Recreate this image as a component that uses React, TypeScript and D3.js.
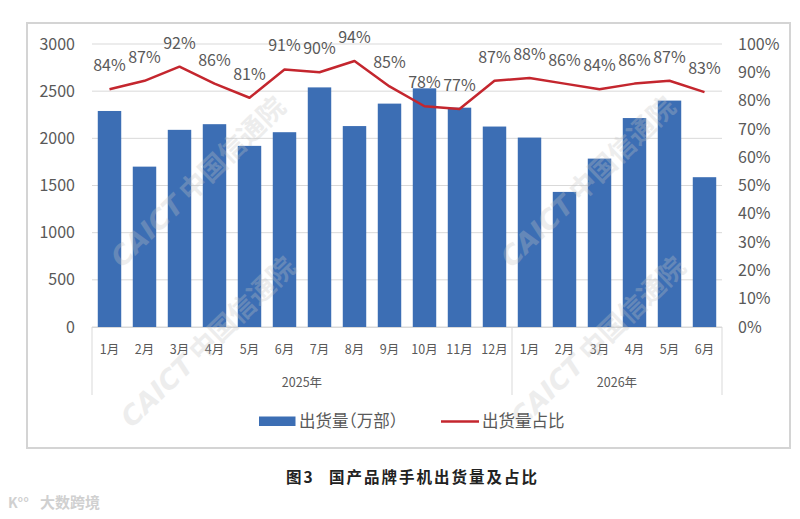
import React from 'react';
import * as d3 from 'd3';

// 国产品牌手机出货量（万部）及占比
const months = ['1月', '2月', '3月', '4月', '5月', '6月', '7月', '8月', '9月', '10月', '11月', '12月', '1月', '2月', '3月', '4月', '5月', '6月'];
const years = [
  { label: '2025年', from: 0, to: 12 },
  { label: '2026年', from: 12, to: 18 },
];
const shipments = [2290, 1700, 2090, 2150, 1920, 2065, 2540, 2130, 2368, 2530, 2325, 2125, 2008, 1432, 1785, 2215, 2400, 1588];
const shares = [0.84, 0.87, 0.92, 0.86, 0.81, 0.91, 0.90, 0.94, 0.85, 0.78, 0.77, 0.87, 0.88, 0.86, 0.84, 0.86, 0.87, 0.83];
const leftTicks = [0, 500, 1000, 1500, 2000, 2500, 3000];
const rightTicks = [0, 0.1, 0.2, 0.3, 0.4, 0.5, 0.6, 0.7, 0.8, 0.9, 1];

const W = 800;
const H = 519;
const plot = { left: 92, right: 722, top: 44, bottom: 327 };
const font = '"Noto Sans CJK SC", "Noto Sans", sans-serif';
const grey = '#595959';
const blue = '#3c6eb4';
const red = '#c4262e';

const watermarks = [
  { x: 198, y: 182 },
  { x: 588, y: 182 },
  { x: 208, y: 342 },
  { x: 598, y: 342 },
];

export default function App() {
  const x = d3.scaleBand<number>()
    .domain(d3.range(months.length))
    .range([plot.left, plot.right])
    .paddingInner(0.33)
    .paddingOuter(0.165);
  const step = x.step();
  const yL = d3.scaleLinear().domain([0, 3000]).range([plot.bottom, plot.top]);
  const yR = d3.scaleLinear().domain([0, 1]).range([plot.bottom, plot.top]);
  const cx = (i: number) => (x(i) ?? 0) + x.bandwidth() / 2;
  const edge = (i: number) => x(0)! - step * x.paddingInner() / 2 + i * step;

  const line = d3.line<number>()
    .x((_, i) => cx(i))
    .y(d => yR(d));

  return (
    <svg width={W} height={H} style={{ position: 'absolute', left: 0, top: 0, background: '#fff' }} fontFamily={font}>
      <rect x={27} y={23} width={763} height={425} fill="#fff" stroke="#d4d4d4" strokeWidth={2} />

      {/* gridlines */}
      {leftTicks.map(t => (
        <line key={t} x1={plot.left} x2={plot.right} y1={yL(t)} y2={yL(t)} stroke="#d9d9d9" strokeWidth={1} />
      ))}

      {/* bars */}
      {shipments.map((v, i) => (
        <rect key={i} x={x(i)} y={yL(v)} width={x.bandwidth()} height={yL(0) - yL(v)} fill={blue} />
      ))}

      {/* share line */}
      <path d={line(shares) ?? ''} fill="none" stroke={red} strokeWidth={2.5} strokeLinejoin="round" />
      {shares.map((v, i) => (
        <text key={i} x={cx(i)} y={yR(v) - 18} textAnchor="middle" fontSize={16} fill={grey}>
          {Math.round(v * 100)}%
        </text>
      ))}

      {/* left axis */}
      {leftTicks.map(t => (
        <text key={t} x={75} y={yL(t)} dy="0.35em" textAnchor="end" fontSize={16} fill={grey}>{t}</text>
      ))}
      {/* right axis */}
      {rightTicks.map(t => (
        <text key={t} x={738} y={yR(t)} dy="0.35em" textAnchor="start" fontSize={16} fill={grey}>{d3.format('.0%')(t)}</text>
      ))}

      {/* category axis */}
      <line x1={plot.left} x2={plot.right} y1={plot.bottom + 0.5} y2={plot.bottom + 0.5} stroke="#d9d9d9" />
      {months.map((m, i) => (
        <text key={i} x={cx(i)} y={350} dy="0.35em" textAnchor="middle" fontSize={12.5} fill={grey}>{m}</text>
      ))}
      {[0, 12, 18].map(i => (
        <line key={i} x1={edge(i)} x2={edge(i)} y1={plot.bottom} y2={395} stroke="#d9d9d9" />
      ))}
      {years.map(g => (
        <text key={g.label} x={(edge(g.from) + edge(g.to)) / 2} y={383} dy="0.35em" textAnchor="middle" fontSize={12.5} fill={grey}>{g.label}</text>
      ))}

      {/* watermarks */}
      {watermarks.map((p, i) => (
        <text key={i} transform={`translate(${p.x},${p.y}) rotate(-44)`} textAnchor="middle" dy="0.35em"
          fontSize={27} fontWeight="bold" fill="#c4c4c4" opacity={0.3}>
          <tspan fontStyle="italic" fontFamily='"DejaVu Sans", sans-serif'>CAICT</tspan> 中国信通院
        </text>
      ))}

      {/* legend */}
      <rect x={259} y={416.5} width={36.5} height={9.5} fill={blue} />
      <text x={299} y={421.5} dy="0.35em" fontSize={16.5} fill={grey} style={{ fontFeatureSettings: '"halt"' }}>出货量（万部）</text>
      <line x1={441} x2={479} y1={421.5} y2={421.5} stroke={red} strokeWidth={2.5} />
      <text x={482} y={421.5} dy="0.35em" fontSize={16.5} fill={grey}>出货量占比</text>

      {/* caption */}
      <text x={286} y={478} dy="0.35em" fontSize={15.5} fontWeight="bold" fill="#222" letterSpacing={2}>图3</text>
      <text x={329} y={478} dy="0.35em" fontSize={15.5} fontWeight="bold" fill="#222" letterSpacing={2}>国产品牌手机出货量及占比</text>
      <text x={40} y={503} dy="0.35em" fontSize={15} fill="#d0d0d0" fontWeight="bold">大数跨境</text>
      <text x={8} y={503} dy="0.35em" fontSize={14} fill="#d0d0d0" fontWeight="bold">K°°</text>
    </svg>
  );
}
